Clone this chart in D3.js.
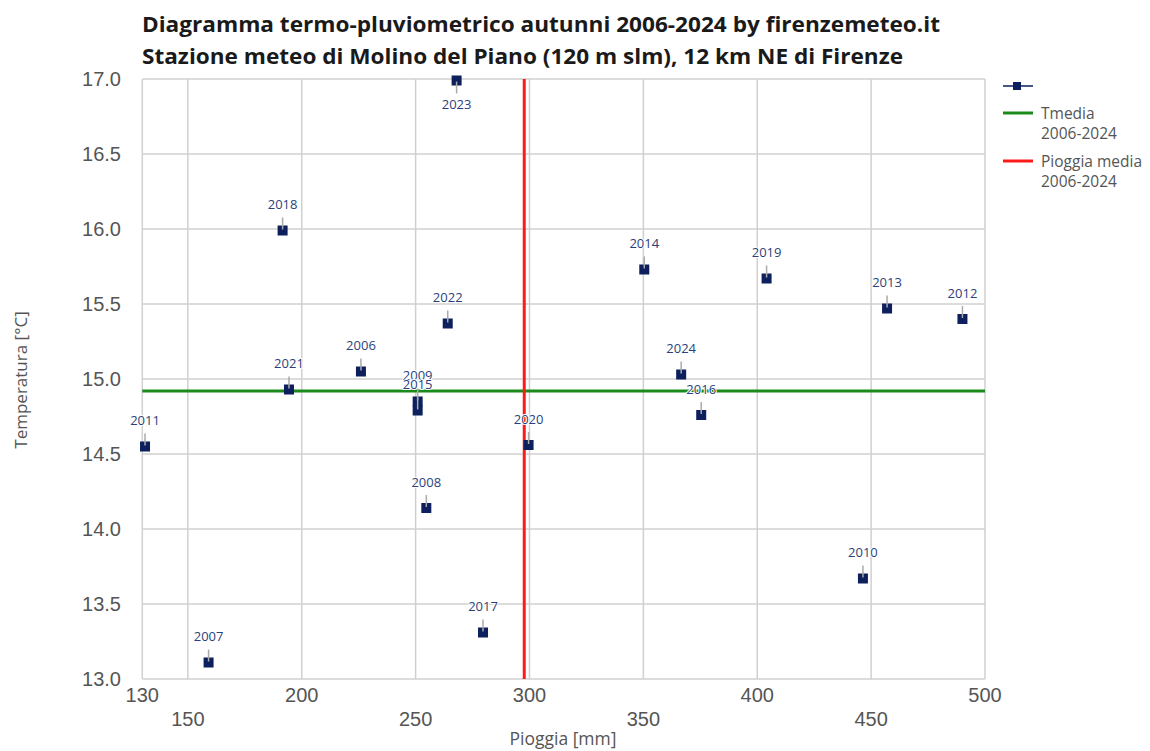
<!DOCTYPE html>
<html><head><meta charset="utf-8">
<script src="https://cdn.jsdelivr.net/npm/d3@7/dist/d3.min.js"></script>
<style>body{margin:0;background:#fff}svg{display:block}</style>
</head><body><svg id="c" width="1150" height="751"></svg>
<script>
const years = ["2006","2007","2008","2009","2010","2011","2012","2013","2014","2015","2016","2017","2018","2019","2020","2021","2022","2023","2024"];
const rain  = [226.0,159.1,254.7,250.9,446.4,131.2,490.1,457.0,350.4,250.9,375.4,279.6,191.6,404.1,299.6,194.4,264.1,268.0,366.6];
const temp  = [15.05,13.11,14.14,14.85,13.67,14.55,15.40,15.47,15.73,14.79,14.76,13.31,15.99,15.67,14.56,14.93,15.37,16.99,15.03];
const labelBelow = ["2023"];
const tMedia = 14.92;
const rainMedia = 297.7;
const xTicks = [130,150,200,250,300,350,400,450,500];
const yTicks = [13.0,13.5,14.0,14.5,15.0,15.5,16.0,16.5,17.0];
const titleLines = ["Diagramma termo-pluviometrico autunni 2006-2024 by firenzemeteo.it","Stazione meteo di Molino del Piano (120 m slm), 12 km NE di Firenze"];
const titleWidths = [798, 761];
const legendItems = [["",""],["Tmedia","2006-2024"],["Pioggia media","2006-2024"]];

const svg = d3.select("#c");
const L=142.3, R=985, T=79, B=679;
const x = d3.scaleLinear().domain([130,500]).range([L,R]);
const y = d3.scaleLinear().domain([13,17]).range([B,T]);
const grid="#d0d0d0";

// grid
svg.append("g").selectAll("line").data(xTicks).join("line")
  .attr("x1",d=>x(d)).attr("x2",d=>x(d)).attr("y1",T).attr("y2",B)
  .attr("stroke",grid).attr("stroke-width",1.5);
svg.append("g").selectAll("line").data(yTicks).join("line")
  .attr("x1",L).attr("x2",R).attr("y1",d=>y(d)).attr("y2",d=>y(d))
  .attr("stroke",grid).attr("stroke-width",1.5);

// tick labels
svg.append("g").selectAll("text").data(yTicks).join("text")
  .attr("x",121).attr("y",d=>y(d)).attr("dy","0.36em").attr("text-anchor","end")
  .attr("font-family","Liberation Sans, Arial, sans-serif").attr("font-size",20).attr("fill","#555")
  .text(d=>d3.format(".1f")(d));
svg.append("g").selectAll("text").data(xTicks).join("text")
  .attr("x",d=>x(d)).attr("y",(d,i)=> i%2===1 ? 719 : 695).attr("dy","0.36em").attr("text-anchor","middle")
  .attr("font-family","Liberation Sans, Arial, sans-serif").attr("font-size",20).attr("fill","#555")
  .text(d=>d);

// axis titles
svg.append("text").attr("x",563).attr("y",739).attr("dy","0.36em").attr("text-anchor","middle")
  .attr("font-family","Open Sans, sans-serif").attr("font-size",17.5).attr("fill","#555").text("Pioggia [mm]");
svg.append("text").attr("transform","translate(21,380) rotate(-90)").attr("dy","0.36em").attr("text-anchor","middle")
  .attr("font-family","Open Sans, sans-serif").attr("font-size",17).attr("fill","#555").text("Temperatura [°C]");

// reference lines
svg.append("line").attr("x1",L).attr("x2",R).attr("y1",y(tMedia)).attr("y2",y(tMedia))
  .attr("stroke","#1a8a1a").attr("stroke-width",3);
svg.append("line").attr("x1",x(rainMedia)).attr("x2",x(rainMedia)).attr("y1",T).attr("y2",B)
  .attr("stroke","#ff1a1a").attr("stroke-width",3);

// points
const pts = years.map((yr,i)=>({yr, r:rain[i], t:temp[i], below: labelBelow.includes(yr)}));
const g = svg.append("g");
g.selectAll("rect").data(pts).join("rect")
  .attr("x",d=>x(d.r)-5).attr("y",d=>y(d.t)-5).attr("width",10).attr("height",10)
  .attr("fill","#0d1f5c");
g.selectAll("line.lead").data(pts).join("line").attr("class","lead")
  .attr("x1",d=>x(d.r)).attr("x2",d=>x(d.r))
  .attr("y1",d=>d.below? y(d.t)+13 : y(d.t)-13)
  .attr("y2",d=>d.below? y(d.t)+1 : y(d.t)-1)
  .attr("stroke","#aaa").attr("stroke-width",1.5);
g.selectAll("text").data(pts).join("text")
  .attr("x",d=>x(d.r)).attr("y",d=>d.below? y(d.t)+24 : y(d.t)-26).attr("dy","0.36em")
  .attr("text-anchor","middle").attr("font-family","Open Sans, sans-serif").attr("font-size",13)
  .attr("fill","#2b3f7c").attr("stroke","#fff").attr("stroke-width",2).attr("paint-order","stroke")
  .text(d=>d.yr);

// title
svg.append("g").selectAll("text").data(titleLines).join("text")
  .attr("x",142).attr("y",(d,i)=>25+i*32).attr("dy","0.36em")
  .attr("textLength",(d,i)=>titleWidths[i]).attr("lengthAdjust","spacingAndGlyphs")
  .attr("font-family","Open Sans, sans-serif").attr("font-weight","bold").attr("font-size",20.5).attr("fill","#1a1a1a")
  .text(d=>d);

// legend
const lg = svg.append("g").attr("font-family","Open Sans, sans-serif").attr("font-size",15.5).attr("fill","#555");
lg.append("line").attr("x1",1003).attr("x2",1033).attr("y1",86).attr("y2",86).attr("stroke","#0d1f5c").attr("stroke-width",1.5);
lg.append("rect").attr("x",1013).attr("y",82).attr("width",8).attr("height",8).attr("fill","#0d1f5c");
lg.append("line").attr("x1",1003).attr("x2",1033).attr("y1",113).attr("y2",113).attr("stroke","#1a8a1a").attr("stroke-width",3);
lg.append("line").attr("x1",1003).attr("x2",1033).attr("y1",161).attr("y2",161).attr("stroke","#ff1a1a").attr("stroke-width",3);
[[113,1],[161,2]].forEach(([yy,k])=>{
  lg.append("text").attr("x",1041).attr("y",yy).attr("dy","0.36em").text(legendItems[k][0]);
  lg.append("text").attr("x",1041).attr("y",yy+20).attr("dy","0.36em").text(legendItems[k][1]);
});
</script></body></html>
